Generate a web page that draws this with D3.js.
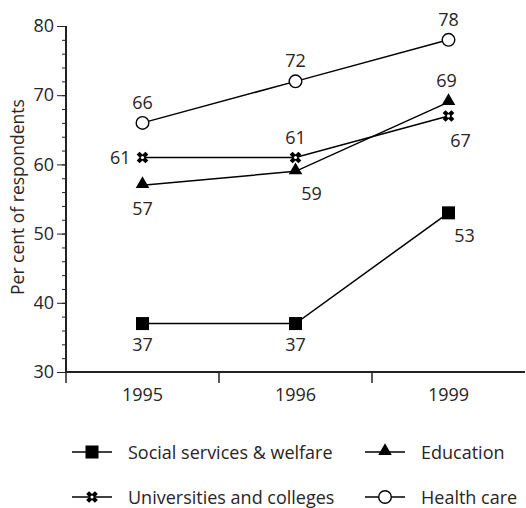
<!DOCTYPE html>
<html>
<head>
<meta charset="utf-8">
<script src="https://cdn.jsdelivr.net/npm/d3@7"></script>
<style>
  body { margin: 0; background: #fff; }
  text { font-family: "Open Sans", "Lato", sans-serif; fill: #2b2326; }
</style>
</head>
<body>
<svg id="chart" width="526" height="508"></svg>
<script>
const years = ["1995", "1996", "1999"];
const social = [37, 37, 53];
const education = [57, 59, 69];
const universities = [61, 61, 67];
const health = [66, 72, 78];
const yTicks = [30, 40, 50, 60, 70, 80];

// label placement per point: [dx, dy, anchor]
const series = [
  { name: "Social services & welfare", values: social, symbol: "square",
    labels: [[0, 20, "middle"], [0, 20, "middle"], [16, 22, "middle"]] },
  { name: "Education", values: education, symbol: "triangle",
    labels: [[0, 23, "middle"], [16, 22, "middle"], [-2, -22, "middle"]] },
  { name: "Universities and colleges", values: universities, symbol: "cross",
    labels: [[-12, 0, "end"], [0, -20, "middle"], [12, 24, "middle"]] },
  { name: "Health care", values: health, symbol: "circle",
    labels: [[0, -21, "middle"], [0, -21, "middle"], [0, -21, "middle"]] }
];

const svg = d3.select("#chart");
const margin = { top: 26, left: 66, right: 1, bottom: 136 };
const width = 526 - margin.left - margin.right;
const height = 508 - margin.top - margin.bottom;

const g = svg.append("g").attr("transform", `translate(${margin.left}, ${margin.top})`);

const x = d3.scaleBand().domain(years).range([0, width]);
const y = d3.scaleLinear().domain([30, 80]).range([height, 0]);

// minor ticks
g.append("g")
  .call(d3.axisLeft(y).tickValues(d3.range(30, 81, 2)).tickSize(4).tickFormat(""))
  .call(s => s.select(".domain").remove())
  .selectAll("line").attr("stroke", "#222");

// y axis
const ya = g.append("g")
  .call(d3.axisLeft(y).tickValues(yTicks).tickSize(9).tickPadding(3));
ya.select(".domain").attr("stroke", "#222").attr("stroke-width", 2)
  .attr("d", `M0,${height}V0`);
ya.selectAll("line").attr("stroke", "#222");
ya.selectAll("text").style("font-size", "18px").attr("fill", "#2b2326");

// x axis
const xa = g.append("g").attr("transform", `translate(0, ${height})`)
  .call(d3.axisBottom(x).tickSize(0).tickPadding(16));
xa.select(".domain").attr("stroke", "#222").attr("stroke-width", 2)
  .attr("d", `M0,0H${width}`);
xa.selectAll("text").style("font-size", "18px").attr("fill", "#2b2326");
g.append("g").selectAll("line")
  .data(years)
  .join("line")
  .attr("x1", d => x(d)).attr("x2", d => x(d))
  .attr("y1", height).attr("y2", height + 11)
  .attr("stroke", "#222").attr("stroke-width", 1.5);

// y label
svg.append("text")
  .attr("transform", `translate(24, 197) rotate(-90)`)
  .attr("text-anchor", "middle")
  .style("font-size", "17.5px")
  .text("Per cent of respondents");

const cx = d => x(d) + x.bandwidth() / 2;

function drawMarker(sel, type) {
  if (type === "square") {
    sel.append("rect").attr("x", -6.5).attr("y", -6.5).attr("width", 13).attr("height", 13).attr("fill", "#000");
  } else if (type === "triangle") {
    sel.append("path").attr("d", d3.symbol(d3.symbolTriangle, 80)()).attr("transform", "translate(0,-1)").attr("fill", "#000");
  } else if (type === "circle") {
    sel.append("circle").attr("r", 6.3).attr("fill", "#fff").attr("stroke", "#000").attr("stroke-width", 1.4);
  } else {
    sel.append("path").attr("d", d3.symbol(d3.symbolCross, 85)()).attr("transform", "rotate(45)").attr("fill", "#000");
    sel.append("circle").attr("r", 1.6).attr("fill", "#fff");
  }
}

const line = d3.line().x((d, i) => cx(years[i])).y(d => y(d));

series.forEach(s => {
  g.append("path")
    .datum(s.values)
    .attr("fill", "none")
    .attr("stroke", "#000")
    .attr("stroke-width", 1.5)
    .attr("d", line);
});

series.forEach(s => {
  s.values.forEach((v, i) => {
    const m = g.append("g").attr("transform", `translate(${cx(years[i])}, ${y(v)})`);
    drawMarker(m, s.symbol);
    const [dx, dy, anchor] = s.labels[i];
    m.append("text")
      .attr("x", dx).attr("y", dy)
      .attr("text-anchor", anchor)
      .attr("dominant-baseline", "central")
      .style("font-size", "18px")
      .text(v);
  });
});

// legend
const legendPos = [[72, 452], [365, 452], [72, 497], [365, 497]];
series.forEach((s, j) => {
  const [lx, ly] = legendPos[j];
  const lg = svg.append("g").attr("transform", `translate(${lx}, ${ly})`);
  lg.append("line").attr("x1", 0).attr("x2", 40).attr("y1", 0).attr("y2", 0)
    .attr("stroke", "#000").attr("stroke-width", 1.5);
  const m = lg.append("g").attr("transform", "translate(20, 0)");
  drawMarker(m, s.symbol);
  lg.append("text").attr("x", 56).attr("y", 0)
    .attr("dominant-baseline", "central")
    .style("font-size", "18px")
    .text(s.name);
});
</script>
</body>
</html>
